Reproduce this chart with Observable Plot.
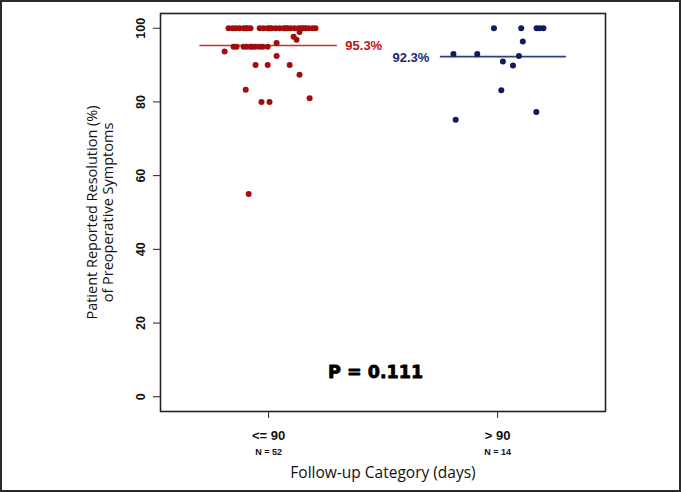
<!DOCTYPE html>
<html><head><meta charset="utf-8">
<script src="https://cdn.jsdelivr.net/npm/d3@7"></script>
<script src="https://cdn.jsdelivr.net/npm/@observablehq/plot@0.6"></script>
<style>
html,body{margin:0;padding:0;background:#fff;}
#chart{position:relative;width:681px;height:492px;overflow:hidden;}
#chart .border{position:absolute;left:0;top:0;width:681px;height:492px;box-sizing:border-box;border:2px solid #2a2a2a;pointer-events:none;}
</style></head><body>
<div id="chart"><div class="border"></div></div>
<script>
// ---- data ----
const categories = ["<= 90", "> 90"];
const categoryN = ["N = 52", "N = 14"];
const yTicks = [0, 20, 40, 60, 80, 100];
const groupMeans = [95.3, 92.3];
const meanLabels = ["95.3%", "92.3%"];
const meanLineStart = [-0.30, -0.25];
const meanLineEnd = [0.30, 0.30];
const yTitle = ["Patient Reported Resolution (%)", "of Preoperative Symptoms"];
const xTitle = "Follow-up Category (days)";
const pValueText = "P = 0.111";
const pValueAt = [1.467, 6.5];

// group "<= 90" (N = 52): value and horizontal jitter from category centre
const redValues = [
  100,100,100,100,100,100,100,100,100,100,100,100,100,100,100,100,100,100,100,100,100,100,100,100,100,100,100,
  99,97.7,96.9,
  95,95,95,95,95,95,95,95,95,95,
  93.7,96,92.5,
  90,90,90,
  87.4,83.3,80,80,81,55
];
const redJitter = [
  -0.175,-0.144,-0.127,-0.109,-0.092,-0.079,-0.039,-0.022,-0.004,0.013,0.031,0.048,0.066,0.083,0.096,0.114,0.131,0.144,0.162,0.175,0.192,0.205,-0.157,-0.100,0.004,0.074,0.153,
  0.135,0.109,0.122,
  -0.153,-0.109,-0.079,-0.057,-0.004,-0.140,-0.096,-0.070,-0.039,-0.026,
  -0.192,0.035,0.035,
  -0.057,-0.004,0.092,
  0.135,-0.100,-0.031,0.004,0.179,-0.087
];
// group "> 90" (N = 14)
const blueValues = [100,100,100,100,100, 96.4, 93,93, 92.5, 91, 89.9, 83.2, 77.3, 75.2];
const blueJitter = [-0.016,0.103,0.170,0.200,0.183, 0.110, -0.193,-0.089, 0.093, 0.023, 0.067, 0.016, 0.169, -0.183];

// ---- styles ----
const pointColor = ["#a10d0d", "#0e1b5c"];
const lineColor = ["#c0302c", "#2e3f7c"];
const labelColor = ["#c0141a", "#1d2a6e"];
const sans = "'Liberation Sans', Arial, sans-serif";
const titleFont = "'Open Sans', sans-serif";

const redPts = redValues.map((v, i) => ({x: 1 + redJitter[i], y: v}));
const bluePts = blueValues.map((v, i) => ({x: 2 + blueJitter[i], y: v}));
const means = groupMeans.map((m, i) => ({
  y: m, x1: i + 1 + meanLineStart[i], x2: i + 1 + meanLineEnd[i], label: meanLabels[i], i
}));

const titleStyle = {frameAnchor: "left", rotate: -90, textAnchor: "middle", lineAnchor: "middle",
  fontSize: 14.5, fontFamily: titleFont, fill: "#111"};

const chart = Plot.plot({
  width: 681, height: 492,
  marginLeft: 160, marginRight: 76, marginTop: 13, marginBottom: 81,
  x: {type: "linear", domain: [0.528, 2.471], axis: null},
  y: {domain: [-4, 104], axis: null},
  style: {fontFamily: sans, background: "#fff", overflow: "visible"},
  marks: [
    Plot.frame({stroke: "#222", strokeWidth: 1.6}),
    Plot.axisY(yTicks, {anchor: "left", tickSize: 7, tickRotate: -90, tickPadding: 9,
      fontSize: 12.5, fontWeight: "bold", fill: "#111", stroke: "#222", label: null}),
    Plot.axisX([1, 2], {anchor: "bottom", tickSize: 7, tickPadding: 12,
      tickFormat: d => categories[d - 1], fontSize: 13, fontWeight: "bold", fill: "#111", stroke: "#222", label: null}),
    Plot.text(categoryN, {x: (d, i) => i + 1, text: d => d, frameAnchor: "bottom", dy: 41,
      lineAnchor: "middle", textAnchor: "middle", fontSize: 9, fontWeight: "bold", fill: "#111"}),
    Plot.text([yTitle[0]], {...titleStyle, text: d => d, dx: -68}),
    Plot.text([yTitle[1]], {...titleStyle, text: d => d, dx: -52}),
    Plot.text([xTitle], {text: d => d, frameAnchor: "bottom", dy: 62, textAnchor: "middle",
      lineAnchor: "middle", fontSize: 15.5, fontFamily: titleFont, fill: "#111"}),
    Plot.ruleY(means.filter(d => d.i === 0), {y: "y", x1: "x1", x2: "x2", stroke: lineColor[0], strokeWidth: 1.6}),
    Plot.ruleY(means.filter(d => d.i === 1), {y: "y", x1: "x1", x2: "x2", stroke: lineColor[1], strokeWidth: 1.6}),
    Plot.dot(redPts, {x: "x", y: "y", r: 3, fill: pointColor[0], stroke: "none"}),
    Plot.dot(bluePts, {x: "x", y: "y", r: 3, fill: pointColor[1], stroke: "none"}),
    Plot.text(means.filter(d => d.i === 0), {x: "x2", y: "y", text: "label", dx: 8, textAnchor: "start",
      lineAnchor: "middle", fontSize: 13, fontWeight: "bold", fill: labelColor[0]}),
    Plot.text(means.filter(d => d.i === 1), {x: "x1", y: "y", text: "label", dx: -11, dy: 1, textAnchor: "end",
      lineAnchor: "middle", fontSize: 13, fontWeight: "bold", fill: labelColor[1]}),
    Plot.text([pValueText], {x: () => pValueAt[0], y: () => pValueAt[1], text: d => d,
      textAnchor: "middle", lineAnchor: "middle", fontSize: 17.5, fontWeight: "bold",
      fontFamily: "'DejaVu Sans', sans-serif", fill: "#000", stroke: "#000", strokeWidth: 0.8})
  ]
});

document.getElementById("chart").prepend(chart);
</script>
</body></html>
